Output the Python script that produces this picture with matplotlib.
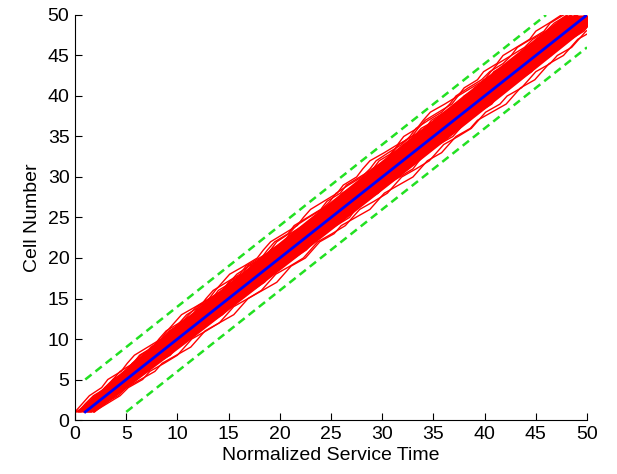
import matplotlib.pyplot as plt
import numpy as np

# cell index of every trace point
cells = np.arange(1, 51)

# per-run deviation of the completion time from the cell number
run_offsets = [
    [-0.6, -0.9, -0.7, -1.1, -1.3, -1.0, -1.4, -1.6, -1.3, -1.5,
     -1.8, -1.6, -1.9, -2.1, -1.8, -1.6, -1.9, -2.2, -2.0, -1.7,
     -1.9, -2.3, -2.1, -2.4, -2.2, -1.9, -2.1, -2.5, -2.3, -2.0,
     -2.2, -2.6, -2.4, -2.1, -2.3, -2.7, -2.5, -2.2, -2.4, -2.8,
     -2.6, -2.3, -2.5, -2.2, -2.4, -2.1, -2.3, -2.0, -2.2, -1.9],
    [0.5, 0.8, 0.6, 1.0, 0.7, 1.1, 0.9, 1.3, 1.0, 1.2,
     0.8, 1.1, 1.4, 1.2, 0.9, 1.3, 1.5, 1.2, 1.0, 1.4,
     1.6, 1.3, 1.1, 1.5, 1.8, 1.4, 1.2, 1.6, 1.3, 1.7,
     2.0, 1.6, 1.3, 1.5, 1.9, 1.6, 1.2, 1.4, 1.7, 1.3,
     1.0, 1.4, 1.6, 1.2, 1.5, 1.1, 1.4, 1.7, 1.3, 1.0],
    [-0.2, -0.5, -0.3, -0.7, -0.4, -0.8, -0.6, -0.3, -0.7, -0.9,
     -0.6, -1.0, -0.8, -0.5, -0.9, -1.2, -0.9, -0.6, -1.0, -1.3,
     -1.0, -0.7, -1.1, -0.8, -1.2, -1.5, -1.1, -0.8, -1.2, -1.4,
     -1.1, -0.9, -1.3, -1.6, -1.2, -0.9, -1.3, -1.0, -1.4, -1.7,
     -1.3, -1.0, -1.4, -1.2, -0.9, -1.3, -1.1, -0.8, -1.2, -1.0],
    [0.2, 0.0, 0.4, 0.1, 0.5, 0.2, 0.6, 0.3, 0.0, 0.4,
     0.7, 0.3, 0.1, 0.5, 0.2, 0.6, 0.3, 0.0, 0.4, 0.8,
     0.4, 0.1, 0.5, 0.2, 0.6, 0.9, 0.5, 0.2, 0.6, 0.3,
     0.7, 0.4, 0.1, 0.5, 0.8, 0.4, 0.7, 0.3, 0.6, 0.9,
     0.5, 0.2, 0.6, 0.3, 0.7, 0.4, 0.8, 0.5, 0.2, 0.4],
    [-1.0, -1.3, -1.6, -1.4, -1.8, -1.5, -1.9, -2.2, -1.9, -1.6,
     -2.0, -2.3, -2.6, -2.2, -1.9, -2.3, -2.6, -2.9, -2.5, -2.2,
     -2.6, -2.9, -2.6, -2.3, -2.7, -3.0, -2.7, -2.4, -2.8, -2.5,
     -2.9, -3.2, -2.8, -2.5, -2.9, -2.6, -3.0, -3.3, -2.9, -2.6,
     -3.0, -2.7, -3.1, -2.8, -3.2, -2.9, -2.6, -3.0, -2.7, -2.5],
    [0.8, 1.1, 1.4, 1.2, 1.6, 1.3, 1.7, 2.0, 1.7, 1.4,
     1.8, 2.1, 1.8, 1.5, 1.9, 2.2, 1.9, 1.6, 2.0, 2.3,
     2.0, 1.7, 2.1, 2.4, 2.1, 1.8, 2.2, 2.5, 2.2, 1.9,
     2.3, 2.6, 2.3, 2.0, 2.4, 2.7, 2.4, 2.1, 2.5, 2.2,
     2.6, 2.3, 2.0, 2.4, 2.1, 2.5, 2.2, 1.9, 2.3, 2.0],
    [-0.4, -0.1, -0.5, -0.2, -0.6, -0.3, -0.7, -0.4, -0.1, -0.5,
     -0.2, -0.6, -0.3, 0.0, -0.4, -0.1, -0.5, -0.2, 0.1, -0.3,
     0.0, -0.4, -0.1, 0.2, -0.2, 0.1, -0.3, 0.0, -0.4, -0.1,
     0.2, -0.2, 0.1, -0.3, 0.0, 0.3, -0.1, 0.2, -0.2, 0.1,
     -0.3, 0.0, 0.3, -0.1, 0.2, -0.2, 0.1, -0.3, 0.0, -0.2],
    [-0.7, -1.0, -1.2, -0.9, -1.3, -1.6, -1.3, -1.7, -1.4, -1.8,
     -2.1, -1.8, -1.5, -1.9, -1.6, -2.0, -1.7, -1.4, -1.8, -1.5,
     -1.9, -1.6, -2.0, -1.7, -1.4, -1.8, -1.5, -1.9, -1.6, -1.3,
     -1.7, -1.4, -1.8, -1.5, -1.9, -2.2, -1.8, -1.5, -1.9, -1.6,
     -2.0, -1.7, -2.1, -1.8, -1.5, -1.9, -1.6, -2.0, -1.7, -1.5],
    [0.9, 0.6, 0.9, 0.5, 0.8, 0.4, 0.7, 0.3, 0.6, 0.2,
     0.5, 0.1, 0.4, 0.7, 0.3, 0.6, 0.2, 0.5, 0.1, 0.4,
     0.0, 0.3, -0.1, 0.2, -0.2, 0.1, -0.3, 0.0, -0.4, -0.1,
     -0.5, -0.2, -0.6, -0.3, -0.7, -0.4, -0.8, -0.5, -0.9, -0.6,
     -1.0, -0.7, -1.1, -0.8, -1.2, -0.9, -1.3, -1.0, -1.4, -1.1],
    [-0.9, -0.6, -0.2, -0.5, -0.1, 0.3, 0.0, 0.4, 0.8, 0.5,
     0.9, 1.2, 0.9, 1.3, 1.0, 0.7, 1.1, 0.8, 0.5, 0.9,
     0.6, 1.0, 0.7, 0.4, 0.8, 0.5, 0.9, 1.2, 0.9, 0.6,
     1.0, 0.7, 1.1, 0.8, 0.5, 0.9, 0.6, 1.0, 1.3, 1.0,
     0.7, 1.1, 0.8, 1.2, 0.9, 1.3, 1.0, 0.7, 1.1, 0.9],
    [0.0, -0.3, -0.6, -0.9, -0.7, -1.1, -1.4, -1.2, -1.6, -1.3,
     -1.7, -1.5, -1.2, -1.6, -1.9, -1.6, -2.0, -1.7, -2.1, -1.8,
     -2.2, -2.5, -2.2, -2.6, -2.3, -2.0, -2.4, -2.1, -2.5, -2.2,
     -1.9, -2.3, -2.0, -2.4, -2.1, -1.8, -2.2, -1.9, -1.6, -2.0,
     -1.7, -2.1, -1.8, -1.5, -1.9, -1.6, -2.0, -1.7, -1.4, -1.6],
    [0.3, 0.6, 0.3, 0.7, 1.0, 0.7, 0.4, 0.8, 0.5, 0.9,
     1.2, 0.9, 0.6, 1.0, 0.7, 0.4, 0.8, 0.5, 0.2, 0.6,
     0.3, 0.7, 0.4, 0.1, 0.5, 0.2, 0.6, 0.3, 0.0, 0.4,
     0.1, 0.5, 0.2, -0.1, 0.3, 0.0, 0.4, 0.1, -0.2, 0.2,
     -0.1, 0.3, 0.0, 0.4, 0.1, 0.5, 0.2, 0.6, 0.3, 0.5],
    [-0.5, -0.8, -1.1, -0.8, -1.2, -0.9, -0.6, -1.0, -1.3, -1.0,
     -0.7, -1.1, -0.8, -1.2, -0.9, -1.3, -1.0, -0.7, -1.1, -0.8,
     -0.5, -0.9, -0.6, -1.0, -0.7, -1.1, -1.4, -1.1, -0.8, -1.2,
     -0.9, -0.6, -1.0, -0.7, -1.1, -0.8, -0.5, -0.9, -0.6, -1.0,
     -0.7, -1.1, -0.8, -0.5, -0.9, -0.6, -1.0, -0.7, -1.1, -0.9],
    [0.6, 0.3, 0.0, -0.3, -0.6, -0.4, -0.8, -1.1, -1.4, -1.1,
     -1.5, -1.8, -2.1, -1.8, -2.2, -2.5, -2.2, -1.9, -2.3, -2.0,
     -1.7, -1.4, -1.8, -1.5, -1.2, -1.6, -1.3, -1.0, -1.4, -1.7,
     -2.0, -1.7, -2.1, -2.4, -2.1, -2.5, -2.8, -2.5, -2.2, -2.6,
     -2.3, -2.0, -2.4, -2.7, -2.4, -2.8, -2.5, -2.2, -2.6, -2.3],
    [0.4, 0.8, 1.2, 1.0, 1.4, 1.8, 1.5, 1.9, 2.3, 2.0,
     1.7, 2.1, 2.5, 2.2, 1.9, 2.3, 2.7, 2.4, 2.1, 2.5,
     2.2, 1.9, 2.3, 2.0, 2.4, 2.8, 2.5, 2.2, 2.6, 3.0,
     2.7, 2.4, 2.8, 2.5, 2.2, 2.6, 2.3, 2.7, 3.1, 2.8,
     2.5, 2.9, 2.6, 2.3, 2.7, 2.4, 2.1, 2.5, 2.2, 2.0],
]

# dense core of the simulated band (service time at the edges)
core_cells = [1, 10, 20, 30, 40, 50]
core_left = [0.0, 8.2, 18.0, 27.9, 37.8, 47.8]
core_right = [1.9, 11.3, 21.5, 31.6, 41.6, 51.5]

# ideal line and the +/-4 bounds
ideal_x = [1, 50]
ideal_y = [1, 50]
upper_x = [1, 46]
upper_y = [5, 50]
lower_x = [5, 50]
lower_y = [1, 46]

ticks = np.arange(0, 51, 5)


def main():
    plt.rcParams["font.family"] = ["Liberation Sans", "DejaVu Sans"]
    fig = plt.figure(figsize=(6.17, 4.74), dpi=100)
    ax = fig.add_axes([0.1216, 0.1139, 0.8298, 0.8545])

    ax.fill_betweenx(core_cells, core_left, core_right, color="red", lw=0)
    for offs in run_offsets:
        offs = np.asarray(offs)
        ax.plot(cells[: len(offs)] + offs, cells[: len(offs)], color="red", lw=1.0)

    ax.plot(ideal_x, ideal_y, color="#0000ff", lw=2.0)
    ax.plot(upper_x, upper_y, color="#22e022", lw=1.8, dashes=(3.2, 2.0))
    ax.plot(lower_x, lower_y, color="#22e022", lw=1.8, dashes=(3.2, 2.0))

    ax.set_xlim(0, 50)
    ax.set_ylim(0, 50)
    ax.set_xticks(ticks)
    ax.set_yticks(ticks)
    ax.tick_params(direction="in", length=5, width=0.8, labelsize=14, pad=4)
    ax.spines["top"].set_visible(False)
    ax.spines["right"].set_visible(False)
    ax.set_xlabel("Normalized Service Time", fontsize=14, labelpad=3)
    ax.set_ylabel("Cell Number", fontsize=14, labelpad=5)

    fig.savefig("out.png", dpi=100)


if __name__ == "__main__":
    main()
